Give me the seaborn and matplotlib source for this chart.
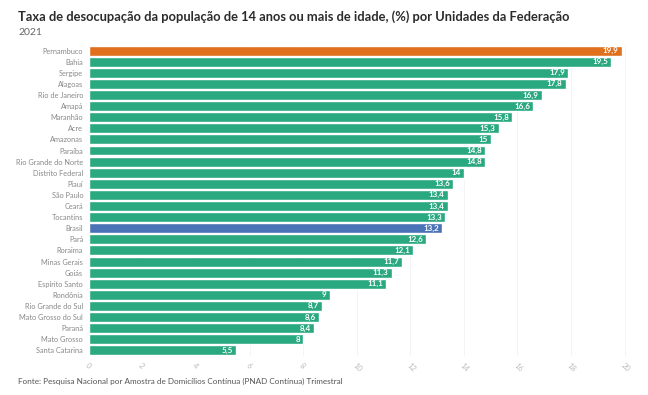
import matplotlib
matplotlib.use('Agg')
import matplotlib.pyplot as plt
import seaborn as sns
import pandas as pd

# Unemployment rate 2021 by state (%)
estados = ['Pernambuco', 'Bahia', 'Sergipe', 'Alagoas', 'Rio de Janeiro', 'Amapá',
           'Maranhão', 'Acre', 'Amazonas', 'Paraíba', 'Rio Grande do Norte',
           'Distrito Federal', 'Piauí', 'São Paulo', 'Ceará', 'Tocantins', 'Brasil',
           'Pará', 'Roraima', 'Minas Gerais', 'Goiás', 'Espírito Santo', 'Rondônia',
           'Rio Grande do Sul', 'Mato Grosso do Sul', 'Paraná', 'Mato Grosso',
           'Santa Catarina']
taxas = [19.9, 19.5, 17.9, 17.8, 16.9, 16.6, 15.8, 15.3, 15.0, 14.8, 14.8, 14.0,
         13.6, 13.4, 13.4, 13.3, 13.2, 12.6, 12.1, 11.7, 11.3, 11.1, 9.0, 8.7, 8.6,
         8.4, 8.0, 5.5]
x_ticks = [0, 2, 4, 6, 8, 10, 12, 14, 16, 18, 20]

GREEN = '#2aa87f'
ORANGE = '#e0701e'
BLUE = '#4a72b6'

df = pd.DataFrame({'estado': estados, 'taxa': taxas})
palette = {e: (ORANGE if e == 'Pernambuco' else BLUE if e == 'Brasil' else GREEN)
           for e in estados}

sns.set_style('white')
plt.rcParams['font.family'] = ['Lato', 'DejaVu Sans']

fig = plt.figure(figsize=(6.48, 3.95), dpi=100)
ax = fig.add_axes([0.137, 0.099, 0.831, 0.787])

sns.barplot(data=df, x='taxa', y='estado', hue='estado', palette=palette,
            legend=False, width=0.9, ax=ax, saturation=1)

for i, v in enumerate(taxas):
    label = f'{v:g}'.replace('.', ',')
    ax.text(v - 0.12, i, label, ha='right', va='center', color='white',
            fontsize=5.8, fontweight='bold')

ax.set_xlim(0, 20.1)
ax.set_ylim(len(estados) - 0.5, -0.5)
ax.set_xticks(x_ticks)
ax.set_xticklabels([str(t) for t in x_ticks], rotation=-45, ha='left',
                   rotation_mode='anchor', fontsize=5.5, color='#bbbbbb')
ax.tick_params(axis='y', labelsize=5.3, labelcolor='#888888', length=2,
               color='#e6e6e6', width=0.5, pad=2)
ax.tick_params(axis='x', length=0, pad=4)
ax.set_xlabel('')
ax.set_ylabel('')
ax.xaxis.grid(True, color='#f2f2f2', linewidth=0.6)
ax.set_axisbelow(True)
for s in ax.spines.values():
    s.set_visible(False)

fig.text(0.028, 0.975, 'Taxa de desocupação da população de 14 anos ou mais de idade, (%) por Unidades da Federação',
         fontsize=9.3, fontweight='bold', color='#2b2b2b', va='top')
fig.text(0.028, 0.93, '2021', fontsize=7.5, color='#666666', va='top')
fig.text(0.028, 0.035, 'Fonte: Pesquisa Nacional por Amostra de Domicílios Contínua (PNAD Contínua) Trimestral',
         fontsize=5.9, color='#555555', va='center')

fig.savefig('out.png', dpi=100)
